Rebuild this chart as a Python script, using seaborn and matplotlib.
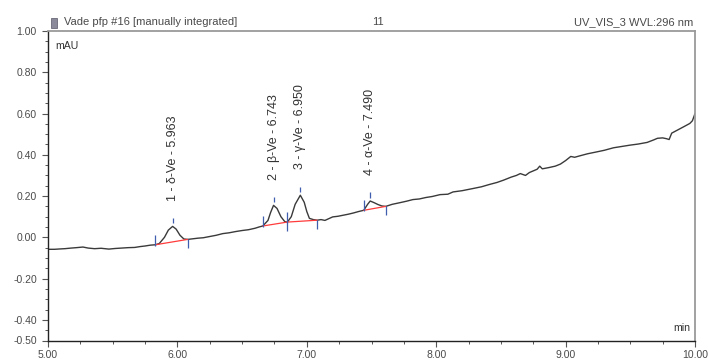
import matplotlib
matplotlib.use("Agg")
import matplotlib.pyplot as plt
from matplotlib.ticker import MultipleLocator, FixedLocator
from matplotlib.patches import Rectangle
import seaborn as sns
import pandas as pd

# ---- data ----
time_min = [5.00, 5.05, 5.10, 5.13, 5.18, 5.22, 5.27, 5.31, 5.36, 5.41, 5.47, 5.52,
            5.57, 5.62, 5.67, 5.71, 5.75, 5.79, 5.83, 5.86, 5.90, 5.93, 5.963, 5.99,
            6.02, 6.05, 6.08, 6.12, 6.16, 6.20, 6.25, 6.30, 6.35, 6.40, 6.45, 6.50,
            6.55, 6.60, 6.63, 6.66, 6.70, 6.72, 6.743, 6.77, 6.80, 6.83, 6.85, 6.88,
            6.91, 6.95, 6.98, 7.00, 7.02, 7.05, 7.08, 7.11, 7.14, 7.20, 7.24, 7.28,
            7.32, 7.36, 7.40, 7.44, 7.47, 7.49, 7.52, 7.55, 7.58, 7.61, 7.66, 7.72,
            7.77, 7.82, 7.87, 7.92, 7.97, 8.03, 8.09, 8.13, 8.20, 8.28, 8.35, 8.41,
            8.47, 8.52, 8.58, 8.62, 8.65, 8.69, 8.72, 8.75, 8.78, 8.80, 8.82, 8.87,
            8.92, 8.96, 9.00, 9.04, 9.07, 9.11, 9.17, 9.24, 9.30, 9.37, 9.43, 9.50,
            9.56, 9.63, 9.68, 9.71, 9.75, 9.78, 9.80, 9.82, 9.85, 9.91, 9.96, 9.98,
            10.00]
signal_mau = [-0.058, -0.058, -0.056, -0.055, -0.052, -0.050, -0.047, -0.052, -0.055, -0.053, -0.057, -0.054,
              -0.052, -0.050, -0.049, -0.045, -0.042, -0.038, -0.036, -0.030, 0.000, 0.035, 0.053, 0.040,
              0.010, -0.008, -0.010, -0.007, -0.004, -0.002, 0.004, 0.010, 0.018, 0.022, 0.028, 0.033,
              0.037, 0.044, 0.050, 0.055, 0.082, 0.120, 0.155, 0.140, 0.100, 0.076, 0.074, 0.100,
              0.160, 0.204, 0.170, 0.125, 0.092, 0.086, 0.083, 0.086, 0.082, 0.099, 0.102, 0.107,
              0.112, 0.118, 0.125, 0.131, 0.160, 0.176, 0.168, 0.159, 0.152, 0.150, 0.160, 0.168,
              0.175, 0.183, 0.186, 0.193, 0.198, 0.207, 0.209, 0.220, 0.226, 0.236, 0.245, 0.256,
              0.266, 0.277, 0.292, 0.300, 0.309, 0.300, 0.314, 0.322, 0.330, 0.345, 0.332, 0.338,
              0.345, 0.355, 0.372, 0.392, 0.388, 0.395, 0.405, 0.414, 0.422, 0.434, 0.440, 0.447,
              0.452, 0.460, 0.472, 0.480, 0.482, 0.478, 0.474, 0.505, 0.515, 0.535, 0.552, 0.565,
              0.600]

peak_labels = ["1 - δ-Ve - 5.963", "2 - β-Ve - 6.743", "3 - γ-Ve - 6.950", "4 - α-Ve - 7.490"]
peak_rt = [5.963, 6.743, 6.950, 7.490]
peak_height = [0.053, 0.155, 0.204, 0.176]
peak_start = [5.83, 6.66, 6.85, 7.44]
peak_start_val = [-0.036, 0.055, 0.074, 0.131]
peak_end = [6.08, 6.85, 7.08, 7.61]
peak_end_val = [-0.010, 0.074, 0.083, 0.150]

x_ticks = [5.0, 6.0, 7.0, 8.0, 9.0, 10.0]
x_tick_labels = ["5.00", "6.00", "7.00", "8.00", "9.00", "10.00"]
y_ticks = [-0.5, -0.4, -0.2, 0.0, 0.2, 0.4, 0.6, 0.8, 1.0]
y_tick_labels = ["-0.50", "-0.40", "-0.20", "0.00", "0.20", "0.40", "0.60", "0.80", "1.00"]

title_left = "Vade pfp #16 [manually integrated]"
title_mid = "11"
title_right = "UV_VIS_3 WVL:296 nm"

# ---- styling ----
sns.set_style("white")
plt.rcParams['font.family'] = ['Liberation Sans', 'DejaVu Sans']

TEXT = "#4a4a4a"
BLUE = "#3f5fae"
RED = "#ff3b3b"

fig = plt.figure(figsize=(7.09, 3.59), dpi=100)
ax = fig.add_axes([48 / 709, 1 - 340.5 / 359, (695 - 48) / 709, (340.5 - 31) / 359])

df = pd.DataFrame({"time": time_min, "signal": signal_mau})
sns.lineplot(data=df, x="time", y="signal", ax=ax, color="#3a3a3a", linewidth=1.0,
             estimator=None, sort=False)

# integration baselines and markers
for s, sv, e, ev in zip(peak_start, peak_start_val, peak_end, peak_end_val):
    ax.plot([s, e], [sv, ev], color=RED, linewidth=0.9, zorder=3)
    ax.vlines(s, sv - 0.005, sv + 0.048, color=BLUE, linewidth=0.9, zorder=4)
    ax.vlines(e, ev - 0.042, ev + 0.002, color=BLUE, linewidth=0.9, zorder=4)

for rt, h, lab in zip(peak_rt, peak_height, peak_labels):
    ax.vlines(rt, h + 0.016, h + 0.042, color=BLUE, linewidth=0.9, zorder=4)
    ax.text(rt, h + 0.125, lab, rotation=90, ha="center", va="bottom",
            fontsize=9.0, color="#333333")

ax.set_xlim(5.0, 10.0)
ax.set_ylim(-0.5, 1.0)
ax.xaxis.set_major_locator(FixedLocator(x_ticks))
ax.set_xticklabels(x_tick_labels)
ax.yaxis.set_major_locator(FixedLocator(y_ticks))
ax.set_yticklabels(y_tick_labels)
ax.xaxis.set_minor_locator(MultipleLocator(0.25))
ax.yaxis.set_minor_locator(MultipleLocator(0.05))
ax.tick_params(axis="both", which="major", direction="out", length=4.5, width=0.8,
               color="#555555", labelsize=7.5, labelcolor=TEXT, pad=3.5,
               bottom=True, left=True)
ax.tick_params(axis="x", which="major", pad=2.5)
ax.tick_params(axis="both", which="minor", direction="out", length=2.5, width=0.7,
               color="#555555", bottom=True, left=True)
ax.set_xlabel("")
ax.set_ylabel("")

for side in ["left", "bottom"]:
    ax.spines[side].set_color("#222222")
    ax.spines[side].set_linewidth(1.0)
for side in ["top", "right"]:
    ax.spines[side].set_color("#9a9a9a")
    ax.spines[side].set_linewidth(1.3)

ax.text(0.012, 0.968, "mAU", transform=ax.transAxes, ha="left", va="top",
        fontsize=7.6, color="#333333")
ax.text(0.992, 0.025, "min", transform=ax.transAxes, ha="right", va="bottom",
        fontsize=7.6, color="#333333")

# header
fig.text(64 / 709, 1 - 22 / 359, title_left, ha="left", va="center", fontsize=8, color=TEXT)
fig.text(378 / 709, 1 - 22 / 359, title_mid, ha="center", va="center", fontsize=8, color=TEXT)
fig.text(693 / 709, 1 - 22 / 359, title_right, ha="right", va="center", fontsize=8, color=TEXT)
fig.patches.append(Rectangle((51 / 709, 1 - 28 / 359), 6 / 709, 10 / 359,
                             transform=fig.transFigure, facecolor="#8a8a9a",
                             edgecolor="#555566", linewidth=0.5))

fig.savefig("out.png", dpi=100)
